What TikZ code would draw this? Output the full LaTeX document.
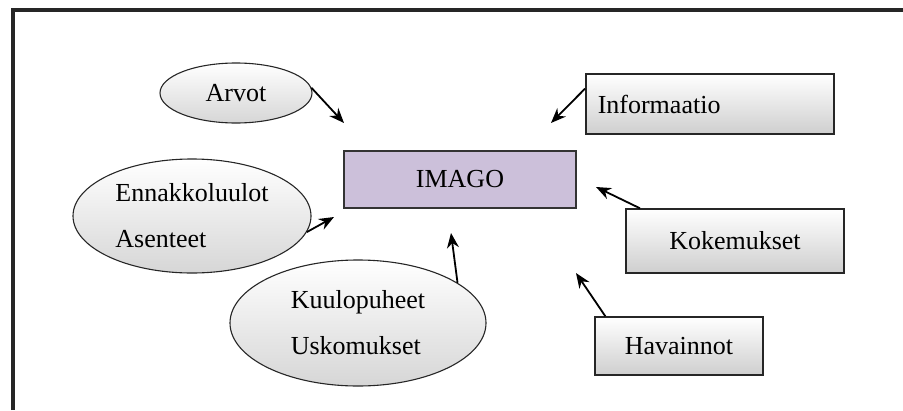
\documentclass[tikz,border=0pt]{standalone}
\usepackage{fontspec}
\setmainfont{Liberation Serif}
\usetikzlibrary{shapes.geometric,arrows.meta}
\definecolor{imagofill}{HTML}{CCC0DA}
\tikzset{
  txt/.style={font=\fontsize{26}{46}\selectfont, text=black},
  oval/.style={ellipse, draw=black!85, line width=1.1pt, top color=white, bottom color=gray!32, inner sep=0pt, txt},
  gbox/.style={rectangle, draw=black!85, line width=1.5pt, top color=white, bottom color=gray!38, inner sep=0pt, txt},
  arr/.style={-{Stealth[length=15pt,width=12pt]}, line width=1.8pt, black},
}
\begin{document}
\begin{tikzpicture}[x=1pt,y=-1pt]
\useasboundingbox (0,0) rectangle (903,410);
\draw[line width=3.2pt, black!85] (13,410) -- (13,10) -- (903,10);
% center
\node[rectangle, draw=black!80, line width=1.5pt, fill=imagofill, minimum width=232pt, minimum height=57pt, txt] (imago) at (460,179.5) {IMAGO};
% left ovals
\node[oval, minimum width=152pt, minimum height=60pt] (arvot) at (236,93) {Arvot};
\node[oval, minimum width=238pt, minimum height=114pt, align=left] (enn) at (192,216) {\raisebox{-5pt}{Ennakkoluulot}\\\raisebox{-5pt}{Asenteet}};
\node[oval, minimum width=256pt, minimum height=126pt, align=left] (kuulo) at (358,323) {Kuulopuheet\\Uskomukset};
% right boxes
\node[gbox, minimum width=248pt, minimum height=60pt, anchor=west, text width=240pt, align=left, inner xsep=0pt] (info) at (585,104) {\hspace*{8pt}Informaatio};
\node[gbox, minimum width=218pt, minimum height=64pt] (koke) at (735,241) {Kokemukset};
\node[gbox, minimum width=168pt, minimum height=58pt] (hav) at (679,346) {Havainnot};
% arrow tips
\coordinate (tA) at (344,123);
\coordinate (tI) at (551,123);
\coordinate (tE) at (334,217);
\coordinate (tK) at (451,233);
\coordinate (tKo) at (596,187);
\coordinate (tH) at (576,273);
\draw[arr] (arvot.4) -- (tA);
\draw[arr] (info.173) -- (tI);
\draw[arr] (enn.-8) -- (tE);
\draw[arr] (kuulo.22) -- (tK);
\draw[arr] (koke.161) -- (tKo);
\draw[arr] (hav.158) -- (tH);
\end{tikzpicture}
\end{document}
